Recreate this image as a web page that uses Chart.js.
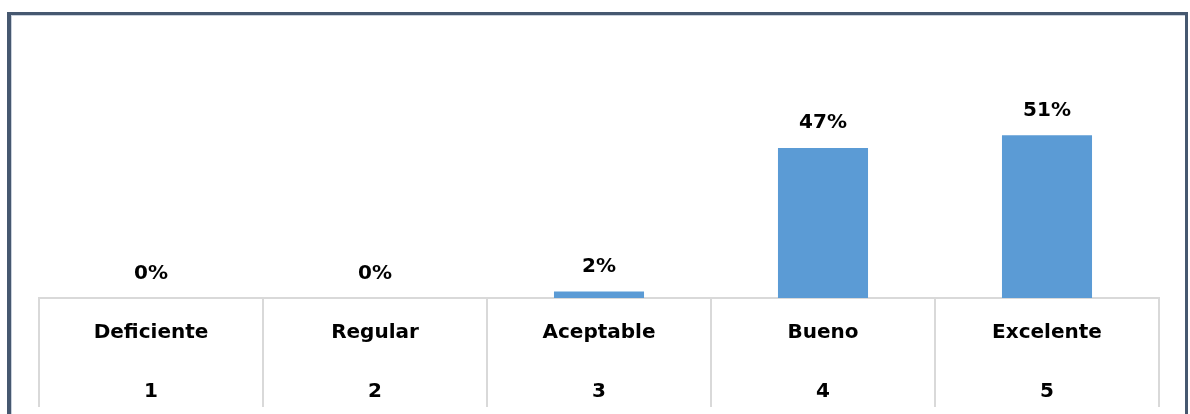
<!DOCTYPE html>
<html>
<head>
<meta charset="utf-8">
<script src="https://cdn.jsdelivr.net/npm/chart.js@4/dist/chart.umd.min.js"></script>
<style>
  html, body { margin: 0; padding: 0; background: #ffffff; }
  #wrap { position: relative; width: 1190px; height: 414px; overflow: hidden; background: #ffffff; }
  #frame {
    position: absolute; left: 7px; top: 12px; width: 1174px; height: 440px;
    border-left: 4px solid #465870; border-top: 3px solid #465870; border-right: 3px solid #465870;
    box-shadow: inset 1px 1px 0 #c9d1dc;
  }
  #c { position: absolute; left: 0; top: 0; z-index: 1; }
</style>
</head>
<body>
<div id="wrap">
  <div id="frame"></div>
  <canvas id="c" width="1190" height="414"></canvas>
</div>
<script>
// Rating categories and their numeric score
const categories = ['Deficiente', 'Regular', 'Aceptable', 'Bueno', 'Excelente'];
const scores = ['1', '2', '3', '4', '5'];
// Share of responses per category (%)
const percentages = [0, 0, 2, 47, 51];

const labelFont = { family: 'DejaVu Sans', weight: 'bold', size: 20 };

// Draws the percentage above every bar
const valueLabels = {
  id: 'valueLabels',
  afterDatasetsDraw(chart) {
    const ctx = chart.ctx;
    const meta = chart.getDatasetMeta(0);
    ctx.save();
    ctx.font = 'bold 20px "DejaVu Sans"';
    ctx.fillStyle = '#000000';
    ctx.textAlign = 'center';
    ctx.textBaseline = 'alphabetic';
    meta.data.forEach((bar, i) => {
      ctx.fillText(percentages[i] + '%', bar.x, bar.y - 19.5);
    });
    ctx.restore();
  }
};

new Chart(document.getElementById('c'), {
  type: 'bar',
  data: {
    labels: categories.map((c, i) => [c, scores[i]]),
    datasets: [{
      data: percentages,
      backgroundColor: '#5B9BD5',
      borderWidth: 0,
      categoryPercentage: 1,
      barPercentage: 0.402
    }]
  },
  options: {
    responsive: false,
    devicePixelRatio: 1,
    animation: false,
    layout: { padding: { left: 39, right: 31, top: 106.5, bottom: 0 } },
    plugins: { legend: { display: false }, tooltip: { enabled: false } },
    scales: {
      y: { display: false, min: 0, max: 60 },
      x: {
        offset: true,
        grid: {
          offset: true,
          drawOnChartArea: false,
          drawTicks: true,
          tickLength: 109,
          color: '#D9D9D9',
          lineWidth: 2
        },
        border: { display: true, color: '#D9D9D9', width: 2 },
        ticks: {
          autoSkip: false,
          maxRotation: 0,
          padding: -103.5,
          color: '#000000',
          font: Object.assign({ lineHeight: 2.95 }, labelFont)
        },
        afterFit(scale) { scale.height = 116; }
      }
    }
  },
  plugins: [valueLabels]
});
</script>
</body>
</html>
